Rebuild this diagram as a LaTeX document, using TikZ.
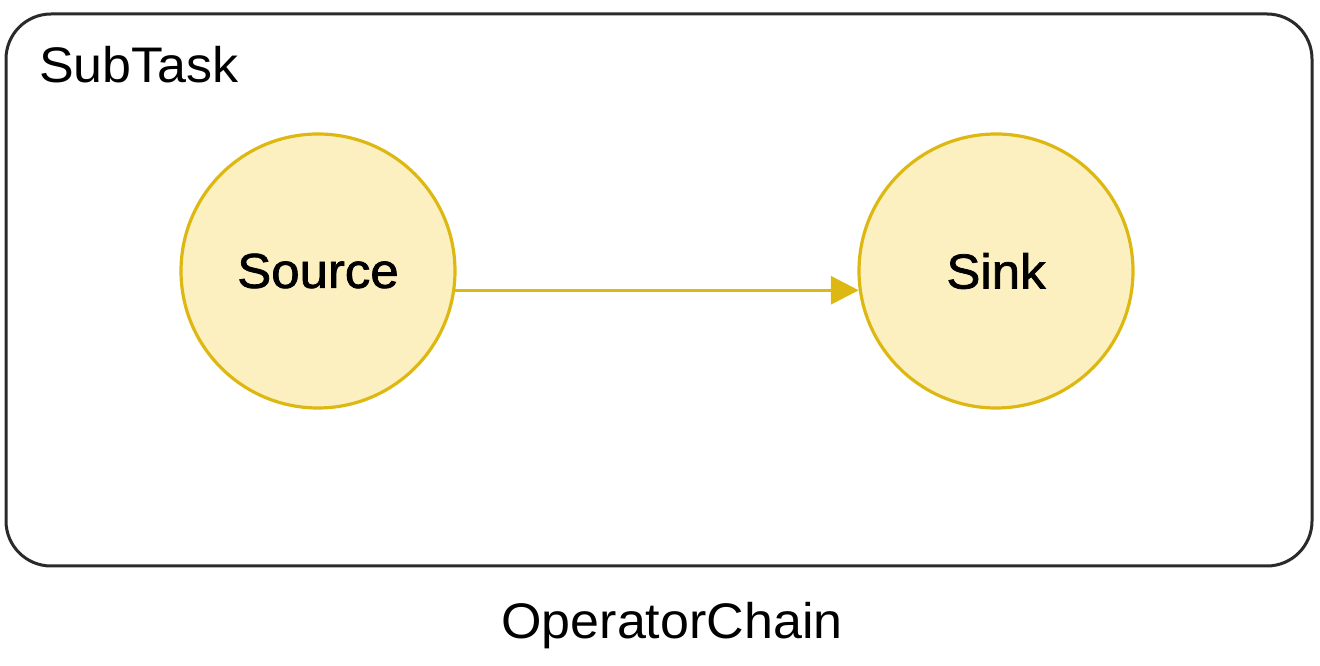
\documentclass[tikz,border=0pt]{standalone}
\usepackage{fontspec}
\setmainfont{Liberation Sans}[FakeStretch=1.04]
\newfontfamily\medfont[FakeBold=1.5,FakeStretch=1.04]{Liberation Sans}
\usetikzlibrary{arrows.meta}
\definecolor{opfill}{HTML}{FCF0C0}
\definecolor{opline}{HTML}{DEB812}
\definecolor{frameline}{HTML}{2A2A2A}
\tikzset{
  opnode/.style={circle, draw=opline, fill=opfill, line width=3.2pt, minimum size=274pt, inner sep=0pt, font=\medfont\fontsize{49}{58}\selectfont},
  flow/.style={draw=opline, line width=3.5pt, -{Triangle[length=28pt,width=28pt]}},
  frame/.style={draw=frameline, line width=3pt, rounded corners=45pt},
  lbl/.style={inner sep=0pt, font=\fontsize{50}{60}\selectfont}
}
\begin{document}
\begin{tikzpicture}[x=1pt,y=1pt]
\useasboundingbox (0,0) rectangle (1320,666);
\draw[frame] (6,100) rectangle (1312,652);
\node[lbl, anchor=base west] (title) at (39,583) {SubTask};
\node[opnode] (src) at (318,395) {Source};
\node[opnode] (snk) at (996,395) {Sink};
\draw[flow] (src.-8.3) -- (snk.188.3);
\node[lbl, anchor=base] (chain) at (672,27) {OperatorChain};
\end{tikzpicture}
\end{document}
